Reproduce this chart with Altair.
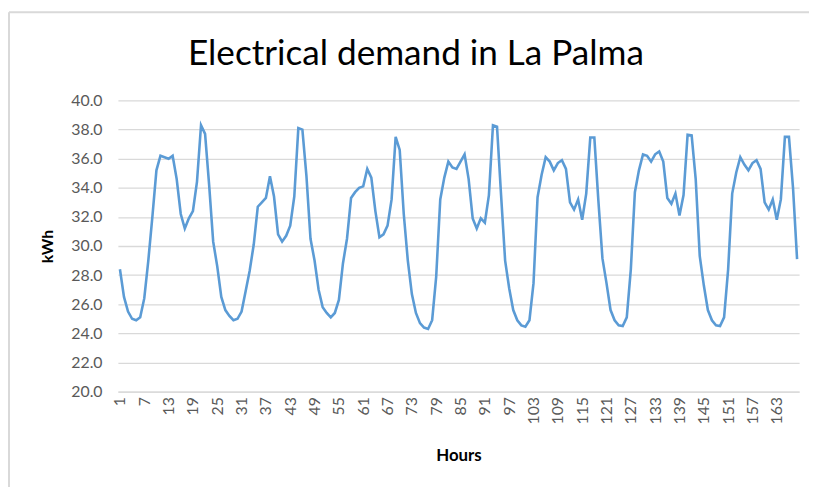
import altair as alt
import pandas as pd

# Hourly electrical demand (kWh), one list per day (24 h each)
day1 = [28.4, 26.5, 25.5, 25.0, 24.9, 25.1, 26.4, 29.0, 32.0, 35.2, 36.2, 36.1,
        36.0, 36.2, 34.6, 32.2, 31.2, 31.9, 32.4, 34.4, 38.3, 37.7, 34.2, 30.3]
day2 = [28.6, 26.5, 25.6, 25.2, 24.9, 25.0, 25.5, 26.9, 28.3, 30.1, 32.7, 33.0,
        33.3, 34.8, 33.4, 30.8, 30.3, 30.7, 31.4, 33.4, 38.1, 38.0, 34.8, 30.5]
day3 = [29.0, 27.0, 25.8, 25.4, 25.1, 25.4, 26.3, 28.8, 30.5, 33.3, 33.7, 34.0,
        34.1, 35.3, 34.7, 32.4, 30.6, 30.8, 31.4, 33.2, 37.5, 36.6, 32.2, 29.0]
day4 = [26.7, 25.4, 24.7, 24.4, 24.3, 24.9, 27.9, 33.2, 34.7, 35.8, 35.4, 35.3,
        35.8, 36.3, 34.6, 31.9, 31.2, 31.9, 31.6, 33.5, 38.3, 38.2, 33.5, 29.0]
day5 = [27.1, 25.6, 24.9, 24.55, 24.45, 24.9, 27.45, 33.35, 34.9, 36.1, 35.8, 35.2,
        35.7, 35.9, 35.3, 33.0, 32.5, 33.2, 31.8, 33.6, 37.45, 37.45, 33.1, 29.15]
day6 = [27.45, 25.6, 24.9, 24.55, 24.5, 25.1, 28.4, 33.7, 35.2, 36.3, 36.2, 35.8,
        36.3, 36.5, 35.8, 33.3, 32.9, 33.6, 32.1, 33.5, 37.65, 37.6, 34.6, 29.3]
day7 = [27.3, 25.6, 24.9, 24.55, 24.5, 25.1, 28.4, 33.6, 35.05, 36.1, 35.6, 35.2,
        35.7, 35.9, 35.3, 33.0, 32.5, 33.2, 31.8, 33.2, 37.5, 37.5, 34.0, 29.1]

demand = day1 + day2 + day3 + day4 + day5 + day6 + day7
hours = list(range(1, len(demand) + 1))
x_ticks = list(range(1, 168, 6))
y_ticks = [20, 22, 24, 26, 28, 30, 32, 34, 36, 38, 40]
title_text = "Electrical demand in La Palma"

df = pd.DataFrame({"hour": hours, "kwh": demand})

FONT = "Lato"
W, H = 688, 294

line = alt.Chart(df).mark_line(color="#5B9BD5", strokeWidth=2.6).encode(
    x=alt.X("hour:Q",
            scale=alt.Scale(domain=[0.5, 168.5], nice=False, zero=False),
            axis=alt.Axis(values=x_ticks, labelAngle=270, title="Hours",
                          grid=False, ticks=False, domain=True,
                          domainColor="#D9D9D9", domainWidth=1.3,
                          labelColor="#595959", labelFontSize=16, labelFont=FONT,
                          labelPadding=5, labelOverlap=False,
                          titleFont=FONT, titleFontSize=17, titleFontWeight="bold",
                          titleColor="#000000", titlePadding=24)),
    y=alt.Y("kwh:Q",
            scale=alt.Scale(domain=[20, 40], nice=False, zero=False),
            axis=alt.Axis(values=y_ticks, format=".1f", title="kWh",
                          grid=True, gridColor="#D9D9D9", gridWidth=1.3,
                          ticks=False, domain=False,
                          labelColor="#595959", labelFontSize=16, labelFont=FONT,
                          labelPadding=16,
                          titleFont=FONT, titleFontSize=16, titleFontWeight="bold",
                          titleColor="#000000", titlePadding=15)),
)

one = alt.Data(values=[{"a": 1}])
border_top = alt.Chart(one).mark_rule(color="#D9D9D9", strokeWidth=2).encode(
    x=alt.value(-110), x2=alt.value(720), y=alt.value(-89))
border_left = alt.Chart(one).mark_rule(color="#D9D9D9", strokeWidth=2).encode(
    x=alt.value(-110), y=alt.value(-89), y2=alt.value(400))
title = alt.Chart(one).mark_text(
    text=title_text, font=FONT, fontSize=35.5, color="#000000",
    align="center", baseline="alphabetic").encode(
    x=alt.value(301), y=alt.value(-36))

chart = alt.layer(line, border_top, border_left, title).properties(
    width=W, height=H,
    autosize=alt.AutoSizeParams(type="none"),
    padding={"left": 111, "top": 91, "right": 10, "bottom": 94},
).configure_view(stroke=None)

chart.save("out.html", embed_options={"renderer": "svg", "actions": False})
